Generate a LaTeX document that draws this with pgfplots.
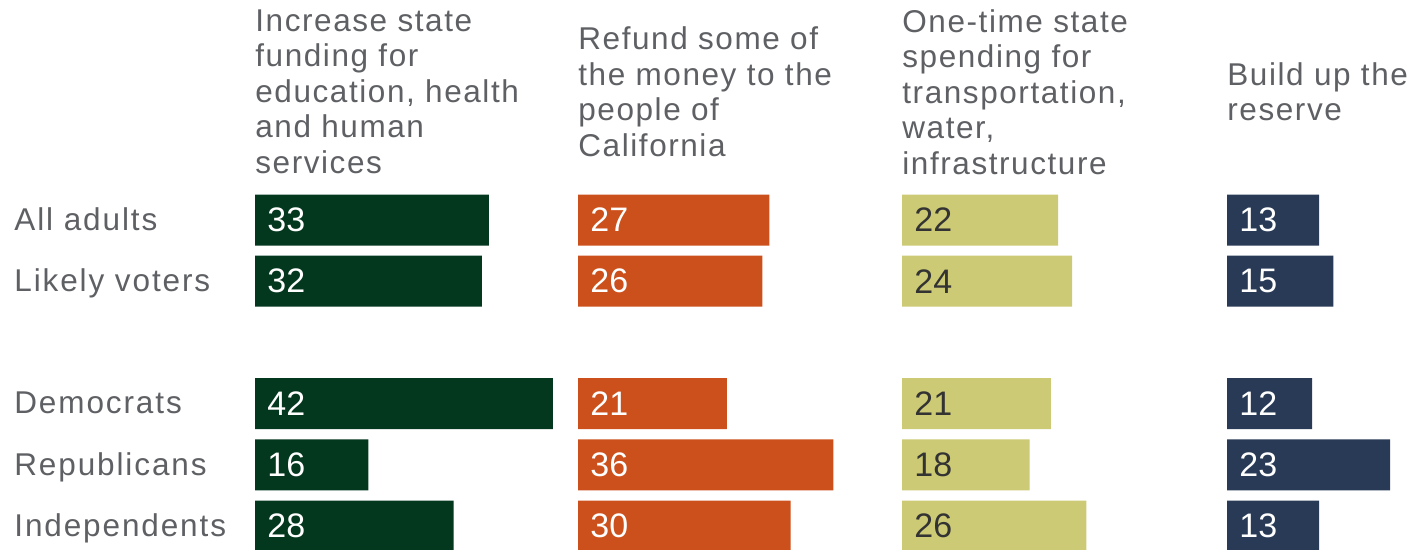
\documentclass[border=0pt]{standalone}
\usepackage{pgfplots}
\pgfplotsset{compat=1.18}
\usepackage{pgfplotstable}
\usepackage{fontspec}
\setmainfont{Liberation Sans}
\newfontfamily\labelfont[LetterSpace=5]{Liberation Sans}
\newfontfamily\rowfont[LetterSpace=6]{Liberation Sans}
\definecolor{cgreen}{HTML}{04381E}
\definecolor{corange}{HTML}{CC501B}
\definecolor{ckhaki}{HTML}{CCCA74}
\definecolor{cnavy}{HTML}{283A55}
\definecolor{tgray}{HTML}{5E6064}
\definecolor{ndark}{HTML}{333333}

\pgfplotstableread{
row val
0 33
1 32
3 42
4 16
5 28
}\tabA
\pgfplotstableread{
row val
0 27
1 26
3 21
4 36
5 30
}\tabB
\pgfplotstableread{
row val
0 22
1 24
3 21
4 18
5 26
}\tabC
\pgfplotstableread{
row val
0 13
1 15
3 12
4 23
5 13
}\tabD

\pgfplotsset{
  panel/.style={
    anchor=origin, x=3.545pt, y=30.6pt, y dir=reverse,
    xmin=0, xmax=45, ymin=-0.5, ymax=5.5,
    axis line style={draw=none}, tick style={draw=none}, major tick length=0pt,
    xtick=\empty, ytick=\empty, clip=false,
    /pgf/number format/assume math mode=true,
  },
  bars/.style={xbar, bar width=25.5pt, fill=#1, draw=none},
  vals/.style={only marks, mark=none, nodes near coords,
    point meta=explicit,
    every node near coord/.append style={anchor=west, inner sep=0pt, xshift=6pt,
      font=\fontsize{17}{20}\selectfont, text=#1}},
}
\newcommand{\hdrfont}{\labelfont\fontsize{15.75}{17.75}\selectfont}

\begin{document}
\begin{tikzpicture}
% panel 1
\begin{axis}[panel, at={(127.5pt,-110pt)},
  ytick={0,1,3,4,5},
  yticklabels={All adults, Likely voters, Democrats, Republicans, Independents},
  yticklabel style={font=\rowfont\fontsize{15.75}{17.75}\selectfont, text=tgray, anchor=base west, inner sep=0pt,
    xshift=-120.5pt, yshift=-5.1pt}]
\addplot[bars=cgreen] table[x=val, y=row] {\tabA};
\addplot[vals=white] table[x expr=0, y=row, meta=val] {\tabA};
\node[anchor=west, align=left, inner sep=0pt, font=\hdrfont, text=tgray] at (axis cs:0,-2.095)
  {Increase state\\funding for\\education, health\\and human\\services};
\end{axis}
% panel 2
\begin{axis}[panel, at={(289pt,-110pt)}]
\addplot[bars=corange] table[x=val, y=row] {\tabB};
\addplot[vals=white] table[x expr=0, y=row, meta=val] {\tabB};
\node[anchor=west, align=left, inner sep=0pt, font=\hdrfont, text=tgray] at (axis cs:0,-2.095)
  {Refund some of\\the money to the\\people of\\California};
\end{axis}
% panel 3
\begin{axis}[panel, at={(451pt,-110pt)}]
\addplot[bars=ckhaki] table[x=val, y=row] {\tabC};
\addplot[vals=ndark] table[x expr=0, y=row, meta=val] {\tabC};
\node[anchor=west, align=left, inner sep=0pt, font=\hdrfont, text=tgray] at (axis cs:0,-2.095)
  {One-time state\\spending for\\transportation,\\water,\\infrastructure};
\end{axis}
% panel 4
\begin{axis}[panel, at={(613.5pt,-110pt)}]
\addplot[bars=cnavy] table[x=val, y=row] {\tabD};
\addplot[vals=white] table[x expr=0, y=row, meta=val] {\tabD};
\node[anchor=west, align=left, inner sep=0pt, font=\hdrfont, text=tgray] at (axis cs:0,-2.095)
  {Build up the\\reserve};
\end{axis}
\pgfresetboundingbox
\path[use as bounding box] (0,0) rectangle (708.5pt,-275pt);
\end{tikzpicture}
\end{document}
